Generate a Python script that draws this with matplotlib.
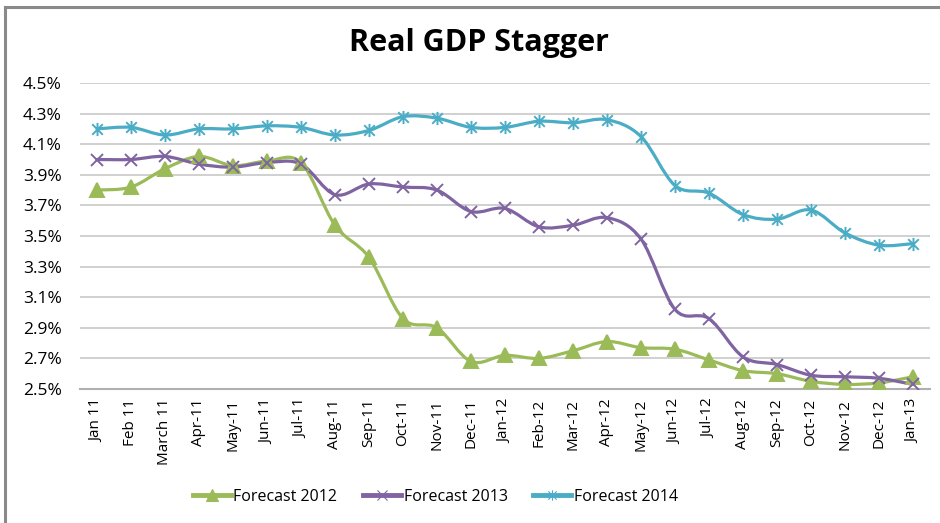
import numpy as np
import matplotlib

matplotlib.use("Agg")
import matplotlib.pyplot as plt
from matplotlib.path import Path
from matplotlib.patches import PathPatch
from matplotlib.lines import Line2D


# ============================================================
# Data (values in %)
# ============================================================

months = [
    "Jan 11", "Feb 11", "March 11", "Apr-11", "May-11", "Jun-11", "Jul-11",
    "Aug-11", "Sep-11", "Oct-11", "Nov-11", "Dec-11", "Jan-12", "Feb-12",
    "Mar-12", "Apr-12", "May-12", "Jun-12", "Jul-12", "Aug-12", "Sep-12",
    "Oct-12", "Nov-12", "Dec-12", "Jan-13",
]

forecast_2012 = [
    3.80, 3.82, 3.94, 4.02, 3.96, 3.99, 3.98, 3.57, 3.36, 2.96, 2.90, 2.68,
    2.72, 2.70, 2.75, 2.81, 2.77, 2.76, 2.69, 2.62, 2.60, 2.55, 2.53, 2.54,
    2.58,
]
forecast_2013 = [
    4.00, 4.00, 4.02, 3.97, 3.95, 3.98, 3.97, 3.77, 3.84, 3.82, 3.80, 3.66,
    3.68, 3.56, 3.57, 3.62, 3.48, 3.02, 2.96, 2.71, 2.66, 2.59, 2.58, 2.57,
    2.53,
]
forecast_2014 = [
    4.20, 4.21, 4.16, 4.20, 4.20, 4.22, 4.21, 4.16, 4.19, 4.28, 4.27, 4.21,
    4.21, 4.25, 4.24, 4.26, 4.15, 3.83, 3.78, 3.64, 3.61, 3.67, 3.52, 3.44,
    3.45,
]

series_names = ["Forecast 2012", "Forecast 2013", "Forecast 2014"]
yticks = [2.5, 2.7, 2.9, 3.1, 3.3, 3.5, 3.7, 3.9, 4.1, 4.3, 4.5]

GREEN = "#9BBB59"
PURPLE = "#8064A2"
CYAN = "#4BACC6"

plt.rcParams["font.family"] = ["Open Sans", "DejaVu Sans"]


# Excel-style asterisk marker: an X with a vertical bar through it
STAR = Path(
    [(-1, -1), (1, 1), (-1, 1), (1, -1), (0, -1.25), (0, 1.25)],
    [Path.MOVETO, Path.LINETO, Path.MOVETO, Path.LINETO, Path.MOVETO, Path.LINETO],
)


def smooth_path(xs, ys, tension=1 / 6):
    """Bezier path through the points, like Excel's smoothed line."""
    pts = np.column_stack([xs, ys]).astype(float)
    verts = [pts[0]]
    codes = [Path.MOVETO]
    n = len(pts)
    for i in range(n - 1):
        p0 = pts[max(i - 1, 0)]
        p1 = pts[i]
        p2 = pts[i + 1]
        p3 = pts[min(i + 2, n - 1)]
        c1 = p1 + (p2 - p0) * tension
        c2 = p2 - (p3 - p1) * tension
        verts += [c1, c2, p2]
        codes += [Path.CURVE4] * 3
    return Path(verts, codes)


fig = plt.figure(figsize=(9.4, 5.23), dpi=100)
ax = fig.add_axes([80 / 940, 1 - 389 / 523, 850 / 940, 306 / 523])

x = np.arange(len(months))

series = [
    (forecast_2012, GREEN, "^", 10),
    (forecast_2013, PURPLE, "x", 9),
    (forecast_2014, CYAN, STAR, 9.5),
]

handles = []
for (vals, color, marker, ms), name in zip(series, series_names):
    ax.add_patch(
        PathPatch(smooth_path(x, vals), facecolor="none", edgecolor=color,
                  lw=2.3, capstyle="round", joinstyle="round", zorder=3)
    )
    ax.plot(x, vals, linestyle="none", marker=marker, markersize=ms,
            color=color, markeredgecolor=color, markeredgewidth=1.4, zorder=4)
    handles.append(
        Line2D([], [], color=color, lw=3.5, marker=marker, markersize=ms - 2,
               markeredgewidth=0.8, markeredgecolor=color, label=name)
    )

ax.set_xlim(-0.5, len(months) - 0.5)
ax.set_ylim(2.5, 4.5)
ax.set_yticks(yticks)
ax.set_yticklabels([f"{v:.1f}%" for v in yticks], fontsize=12.5)
ax.set_xticks(x)
ax.set_xticklabels(months, rotation=90, fontsize=11)

ax.grid(axis="y", color="#c8c8c8", lw=1.2)
ax.set_axisbelow(True)
for side in ["left", "right", "top"]:
    ax.spines[side].set_visible(False)
ax.spines["bottom"].set_color("#b0b0b0")
ax.spines["bottom"].set_linewidth(1.5)
ax.tick_params(axis="both", length=0)
ax.tick_params(axis="x", pad=7)
ax.tick_params(axis="y", pad=13)

fig.text(0.509, 0.918, "Real GDP Stagger", ha="center", va="center",
         fontsize=22, fontweight="bold")

fig.legend(handles=handles, loc="center", bbox_to_anchor=(0.463, 1 - 497 / 523),
           ncol=3, frameon=False, fontsize=11.5, handlelength=2.4,
           columnspacing=1.6, handletextpad=0.15)

# chart border (top and left edges visible)
fig.add_artist(Line2D([5 / 940, 5 / 940], [0, 1 - 7 / 523], color="#8a8a8a",
                      lw=2.2, transform=fig.transFigure))
fig.add_artist(Line2D([5 / 940, 1], [1 - 7 / 523, 1 - 7 / 523], color="#8a8a8a",
                      lw=2.2, transform=fig.transFigure))

fig.savefig("out.png", dpi=100)
